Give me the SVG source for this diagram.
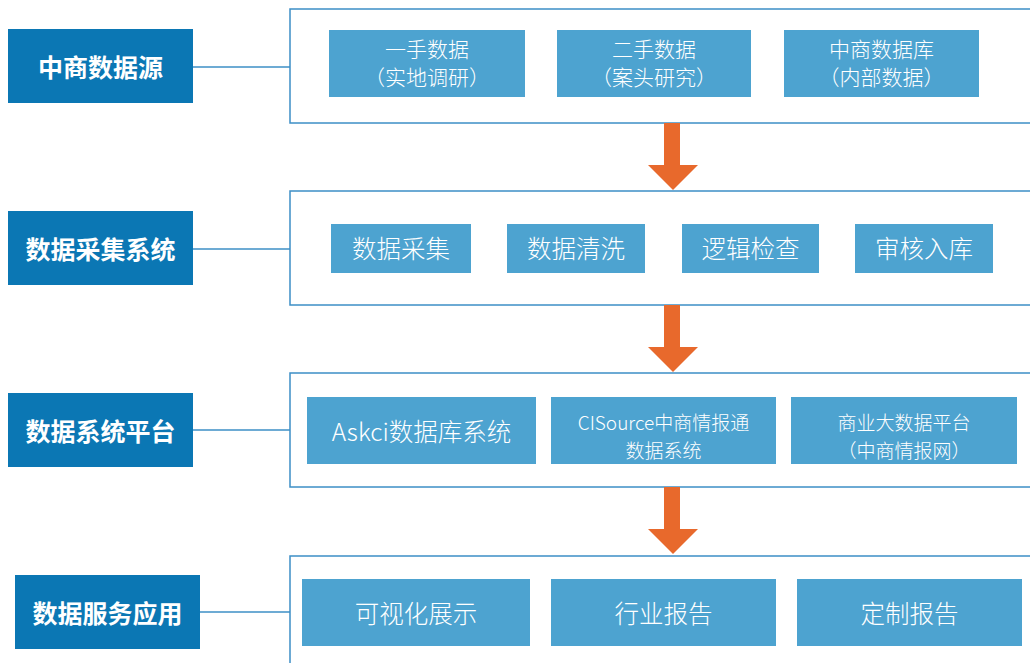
<svg xmlns="http://www.w3.org/2000/svg" width="1030" height="663" viewBox="0 0 1030 663">
<style>
.bg{fill:#ffffff}
.frame{fill:#ffffff;stroke:#3d8fc6;stroke-width:1.5}
.head{fill:#0b77b4}
.item{fill:#4da3d0}
.conn{stroke:#3d8fc6;stroke-width:1.5;fill:none}
.arrow{fill:#e8692c}
.ht{font-family:"Noto Sans CJK SC","Noto Sans",sans-serif;font-weight:bold;font-size:25px;fill:#ffffff;text-anchor:middle;dominant-baseline:central}
.it{font-family:"Noto Sans CJK SC","Noto Sans",sans-serif;font-weight:300;font-size:24.5px;fill:#ffffff;text-anchor:middle;dominant-baseline:central}
.it1{font-family:"Noto Sans CJK SC","Noto Sans",sans-serif;font-weight:300;font-size:21px;fill:#ffffff;text-anchor:middle;dominant-baseline:central}
.it2{font-family:"Noto Sans CJK SC","Noto Sans",sans-serif;font-weight:300;font-size:19px;fill:#ffffff;text-anchor:middle;dominant-baseline:central}
</style>
<rect class="bg" x="0" y="0" width="1030" height="663"/>
<g id="connectors">
<line class="conn" x1="193" y1="67" x2="290" y2="67"/>
<line class="conn" x1="193" y1="249" x2="290" y2="249"/>
<line class="conn" x1="193" y1="430" x2="290" y2="430"/>
<line class="conn" x1="200" y1="612" x2="290" y2="612"/>
</g>
<g id="frame1"><rect class="frame" x="290" y="9" width="750" height="114"/></g>
<g id="frame2"><rect class="frame" x="290" y="191" width="750" height="114"/></g>
<g id="frame3"><rect class="frame" x="290" y="373" width="750" height="114"/></g>
<g id="frame4"><rect class="frame" x="290" y="556" width="750" height="120"/></g>
<g id="arrows">
<polygon class="arrow" points="664,123 680,123 680,165 698,165 673,190 648,165 664,165"/>
<polygon class="arrow" points="664,305 680,305 680,347 698,347 673,372 648,347 664,347"/>
<polygon class="arrow" points="664,487 680,487 680,529 698,529 673,554 648,529 664,529"/>
</g>
<g id="h1"><rect class="head" x="8" y="29" width="185" height="74"/><text class="ht" x="100.5" y="66">中商数据源</text></g>
<g id="h2"><rect class="head" x="8" y="211" width="185" height="74"/><text class="ht" x="100.5" y="248">数据采集系统</text></g>
<g id="h3"><rect class="head" x="8" y="393" width="185" height="74"/><text class="ht" x="100.5" y="430">数据系统平台</text></g>
<g id="h4"><rect class="head" x="15" y="575" width="185" height="74"/><text class="ht" x="107.5" y="612">数据服务应用</text></g>
<g id="r1a"><rect class="item" x="329" y="30" width="196" height="67"/><text class="it1" x="427" y="48">一手数据</text><text class="it1" x="427" y="76">（实地调研）</text></g>
<g id="r1b"><rect class="item" x="557" y="30" width="194" height="67"/><text class="it1" x="654" y="48">二手数据</text><text class="it1" x="654" y="76">（案头研究）</text></g>
<g id="r1c"><rect class="item" x="784" y="30" width="195" height="67"/><text class="it1" x="881.5" y="48">中商数据库</text><text class="it1" x="881.5" y="76">（内部数据）</text></g>
<g id="r2a"><rect class="item" x="331" y="224" width="140" height="49"/><text class="it" x="401" y="247">数据采集</text></g>
<g id="r2b"><rect class="item" x="507" y="224" width="138" height="49"/><text class="it" x="576" y="247">数据清洗</text></g>
<g id="r2c"><rect class="item" x="682" y="224" width="137" height="49"/><text class="it" x="750.5" y="247">逻辑检查</text></g>
<g id="r2d"><rect class="item" x="855" y="224" width="138" height="49"/><text class="it" x="924" y="247">审核入库</text></g>
<g id="r3a"><rect class="item" x="307" y="397" width="229" height="67"/><text class="it" x="421.5" y="430">Askci数据库系统</text></g>
<g id="r3b"><rect class="item" x="551" y="397" width="225" height="67"/><text class="it2" x="663.5" y="421">CISource中商情报通</text><text class="it2" x="663.5" y="449">数据系统</text></g>
<g id="r3c"><rect class="item" x="791" y="397" width="226" height="67"/><text class="it2" x="904" y="421">商业大数据平台</text><text class="it2" x="904" y="449">（中商情报网）</text></g>
<g id="r4a"><rect class="item" x="302" y="579" width="228" height="67"/><text class="it" x="416" y="612">可视化展示</text></g>
<g id="r4b"><rect class="item" x="551" y="579" width="225" height="67"/><text class="it" x="663.5" y="612">行业报告</text></g>
<g id="r4c"><rect class="item" x="797" y="579" width="225" height="67"/><text class="it" x="909.5" y="612">定制报告</text></g>
</svg>
